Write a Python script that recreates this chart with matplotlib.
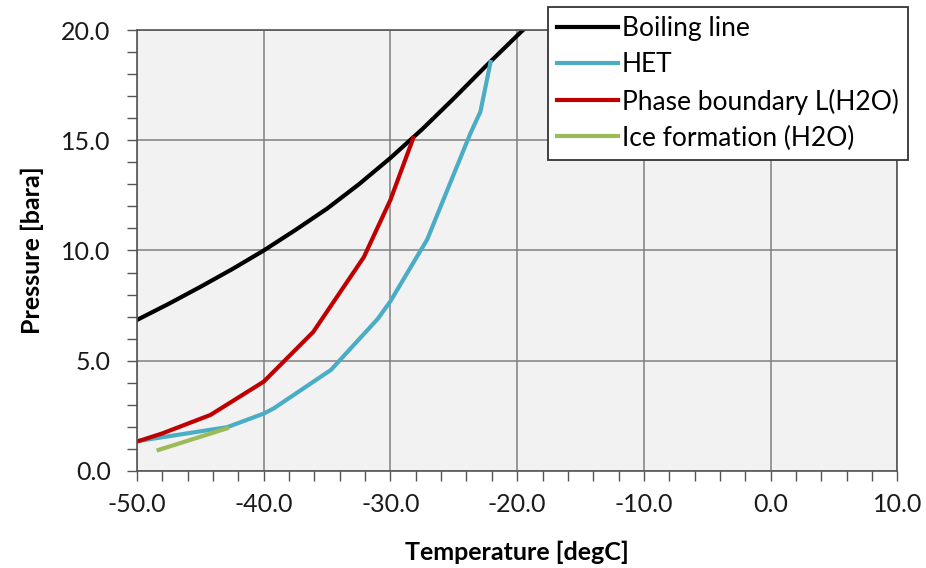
import matplotlib.pyplot as plt
from matplotlib.ticker import MultipleLocator, FormatStrFormatter

plt.rcParams['font.family'] = ['Lato', 'DejaVu Sans']

# boiling line
boil_t = [-50, -47.5, -45, -42.5, -40, -37.5, -35, -32.5, -30, -27.5, -25, -22.5, -20, -19]
boil_p = [6.85, 7.58, 8.35, 9.15, 10.0, 10.93, 11.9, 13.0, 14.2, 15.5, 16.9, 18.35, 19.75, 20.3]

# HET
het_t = [-50, -42.9, -40, -39.2, -34.7, -31.0, -30, -27.1, -23.7, -22.9, -22.1]
het_p = [1.35, 1.98, 2.6, 2.84, 4.58, 6.9, 7.7, 10.5, 15.3, 16.3, 18.55]

# phase boundary L(H2O)
pb_t = [-50, -48, -44.2, -40, -36.1, -32.1, -30, -28.2]
pb_p = [1.33, 1.7, 2.54, 4.05, 6.3, 9.7, 12.3, 15.1]

# ice formation (H2O)
ice_t = [-48.3, -42.9]
ice_p = [0.95, 1.93]

fig = plt.figure(figsize=(9.26, 5.68), dpi=100)
ax = fig.add_axes([0.148, 0.171, 0.821, 0.776])
ax.set_facecolor('#F2F2F2')

lw = 3.0
ax.plot(boil_t, boil_p, color='black', lw=lw, label='Boiling line')
ax.plot(het_t, het_p, color='#4BACC6', lw=lw, label='HET')
ax.plot(pb_t, pb_p, color='#C00000', lw=lw, label='Phase boundary L(H2O)')
ax.plot(ice_t, ice_p, color='#9BBB59', lw=lw, label='Ice formation (H2O)')

ax.set_xlim(-50, 10)
ax.set_ylim(0, 20)
ax.xaxis.set_major_locator(MultipleLocator(10))
ax.xaxis.set_minor_locator(MultipleLocator(2))
ax.yaxis.set_major_locator(MultipleLocator(5))
ax.yaxis.set_minor_locator(MultipleLocator(1))
ax.xaxis.set_major_formatter(FormatStrFormatter('%.1f'))
ax.yaxis.set_major_formatter(FormatStrFormatter('%.1f'))
ax.grid(which='major', color='#808080', lw=1.1)
ax.set_axisbelow(True)
ax.tick_params(which='both', direction='out', length=7, width=1, color='#555555')
ax.tick_params(which='major', labelsize=18, labelcolor='#1a1a1a')
ax.tick_params(axis='x', which='major', pad=9)
ax.tick_params(axis='y', which='major', pad=12)
for s in ax.spines.values():
    s.set_color('#555555')
    s.set_linewidth(1.2)

ax.set_xlabel('Temperature [degC]', fontsize=18, fontweight='bold', labelpad=18)
ax.set_ylabel('Pressure [bara]', fontsize=18, fontweight='bold', labelpad=12)

leg = ax.legend(loc='upper right', bbox_to_anchor=(908 / 926, 1 - 7 / 568),
                bbox_transform=fig.transFigure, fontsize=19, frameon=True,
                fancybox=False, edgecolor='#333333', framealpha=1,
                handlelength=2.3, handletextpad=0.15, borderpad=0.35,
                labelspacing=0.42, borderaxespad=0)
leg.get_frame().set_linewidth(1.3)

fig.savefig('out.png', dpi=100)
